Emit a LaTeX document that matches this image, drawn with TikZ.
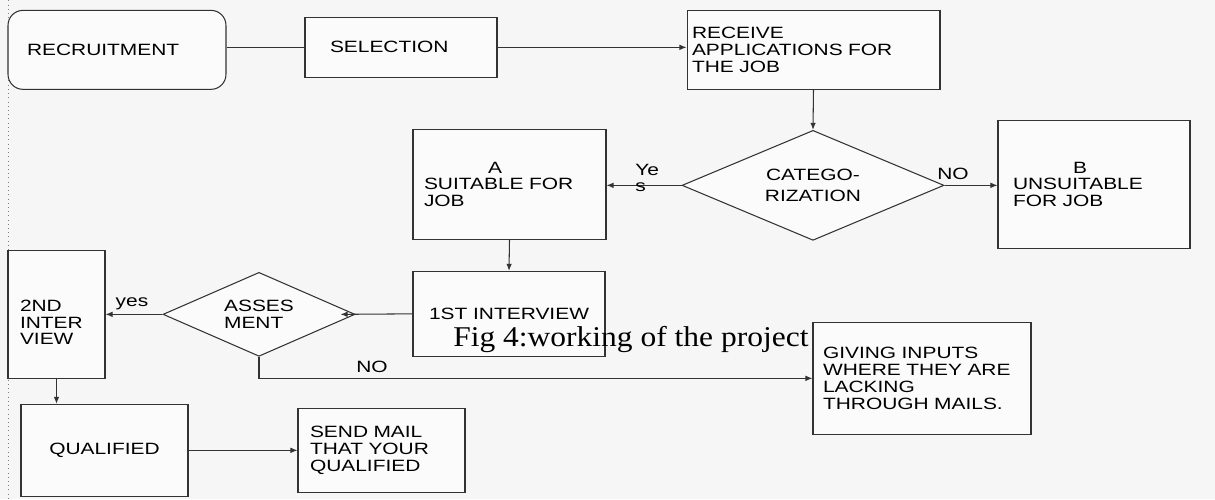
\documentclass[tikz,border=0pt]{standalone}
\usepackage{fontspec}
\setmainfont[FakeStretch=1.28]{Liberation Sans}
\newfontfamily\capfont[FakeStretch=1.1]{Liberation Serif}
\usetikzlibrary{shapes.geometric,arrows.meta}
\definecolor{linegray}{HTML}{333333}
\newcommand\boxtext{\fontsize{9.3}{9.6}\selectfont}

\begin{document}
\begin{tikzpicture}[x=0.02cm,y=-0.02cm,
    box/.style={rectangle,draw=linegray,fill=gray!3,line width=0.6pt,font=\boxtext,align=left,inner ysep=0pt},
    decision/.style={diamond,draw=linegray,fill=gray!3,line width=0.6pt,font=\boxtext,inner sep=0pt},
    link/.style={draw=linegray,line width=0.6pt},
    arrow/.style={link,-{Latex[length=4pt,width=3.2pt]}},
    lbl/.style={font=\boxtext,inner sep=0pt}]
    \fill[gray!7] (0,0) rectangle (1215,499);
    \draw[gray,dotted] (8,0) -- (8,499);

    \node[box,rounded corners=0.3cm,minimum width=4.36cm,minimum height=1.58cm,inner xsep=0.38cm,text width=3.6cm] (recruit) at (117,49.5) {RECRUITMENT};
    \node[box,minimum width=3.84cm,minimum height=1.2cm,inner xsep=0.5cm,text width=2.84cm] (select) at (401,47) {SELECTION};
    \node[box,minimum width=5.06cm,minimum height=1.58cm,inner xsep=0.1cm,text width=4.86cm] (receive) at (813.5,49.5) {RECEIVE\\APPLICATIONS FOR\\THE JOB};
    \node[decision,aspect=2.4,minimum width=5.24cm,minimum height=2.2cm,align=center] (categ) at (813,185) {CATEGO-\\[2pt]RIZATION};
    \node[box,minimum width=3.86cm,minimum height=2.2cm,inner xsep=0.22cm,text width=3.42cm] (suit) at (509.5,184) {\hspace*{1.28cm}A\\SUITABLE FOR\\JOB};
    \node[box,minimum width=3.84cm,minimum height=2.56cm,inner xsep=0.3cm,text width=3.24cm] (unsuit) at (1094,184) {\hspace*{1.2cm}B\\UNSUITABLE\\FOR JOB};
    \node[box,minimum width=3.84cm,minimum height=1.7cm,align=center] (first) at (509,313.5) {1ST INTERVIEW};
    \node[decision,aspect=2.3,minimum width=3.84cm,minimum height=1.68cm,align=left] (assess) at (259,314) {ASSES\\MENT};
    \node[box,minimum width=1.94cm,minimum height=2.56cm,inner xsep=0.24cm,text width=1.46cm] (second) at (56.5,314) {\rule{0pt}{0.55cm}2ND\\INTER\\VIEW};
    \node[box,minimum width=4.36cm,minimum height=2.24cm,inner xsep=0.2cm,text width=3.96cm] (giving) at (922,378) {GIVING INPUTS\\WHERE THEY ARE\\LACKING\\THROUGH MAILS.};
    \node[box,minimum width=3.34cm,minimum height=1.84cm,align=center] (qual) at (104.5,450) {QUALIFIED};
    \node[box,minimum width=3.34cm,minimum height=1.68cm,inner xsep=0.24cm,text width=2.86cm] (mail) at (381.5,450) {SEND MAIL\\THAT YOUR\\QUALIFIED};

    \draw[link] (recruit.east |- select.west) -- (select.west);
    \draw[arrow] (select.east) -- (select.east -| receive.west);
    \draw[arrow] (receive.south) -- (categ.north);
    \draw[arrow] (categ.west) -- (suit.east |- categ.west);
    \draw[arrow] (categ.east) -- (unsuit.west |- categ.east);
    \draw[arrow] (suit.south) -- (first.north);
    \draw[arrow] (first.west) -- ([xshift=-0.3cm]assess.east);
    \draw[arrow] (assess.west) -- (second.east |- assess.west);
    \draw[arrow] (assess.south) |- (giving.west);
    \draw[arrow] (second.south) -- (second.south |- qual.north);
    \draw[arrow] (qual.east) -- (qual.east -| mail.west);

    \node[lbl,anchor=north west,align=left,font=\fontsize{9.3}{9}\selectfont] (yestop) at (635,164) {Ye\\s};
    \node[lbl] (notop) at (953,174) {NO};
    \node[lbl,anchor=base] (yeslow) at (132,306) {yes};
    \node[lbl] (nolow) at (372,367) {NO};

    \node[font=\capfont\fontsize{16.3}{18}\selectfont,anchor=base west,inner sep=0pt] (caption) at (453,346) {Fig 4:working of the project};
\end{tikzpicture}
\end{document}
